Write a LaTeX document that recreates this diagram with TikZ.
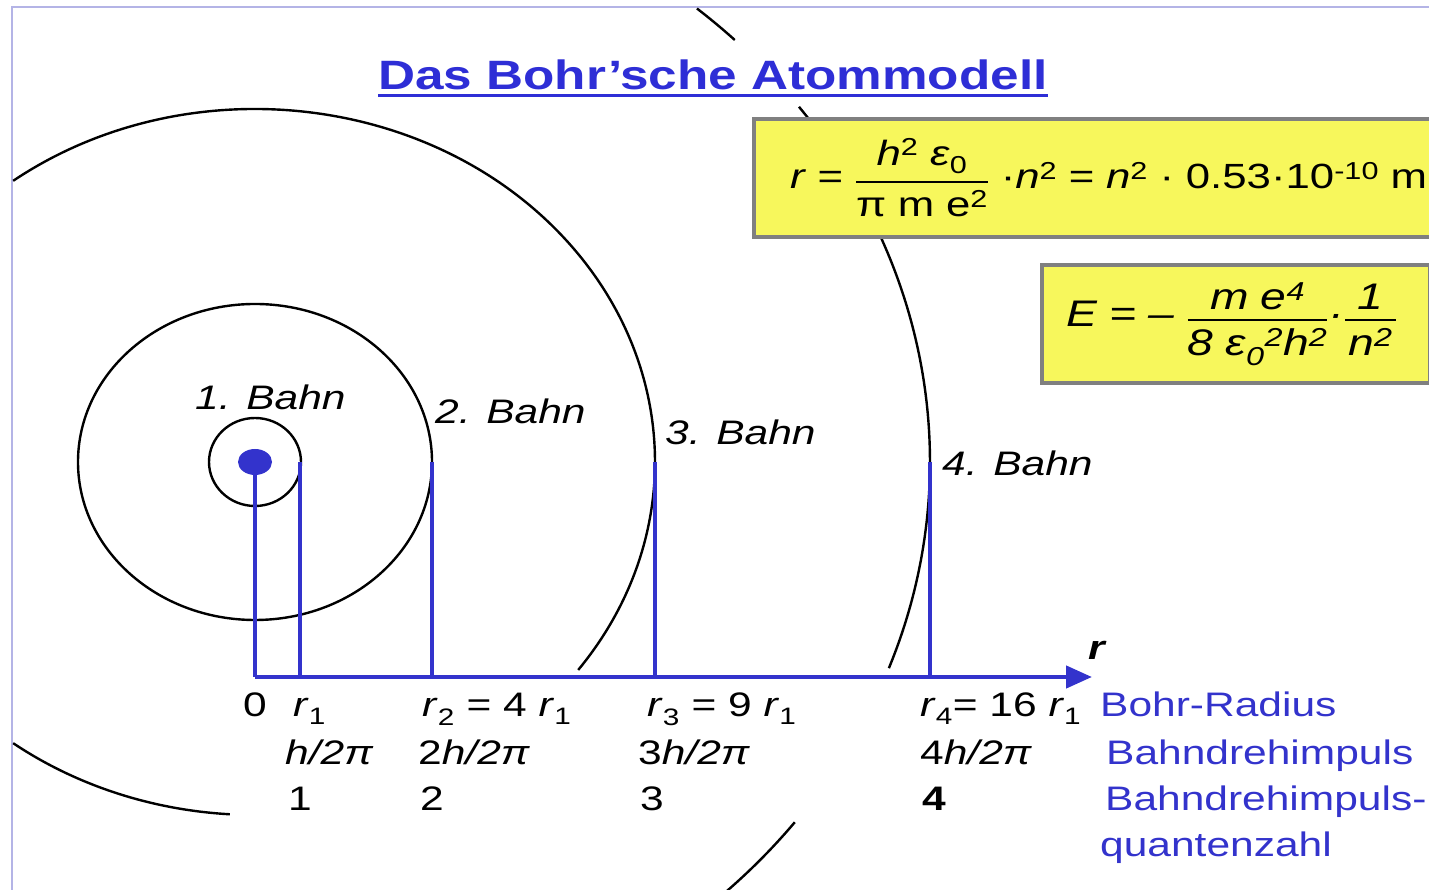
\documentclass[tikz,border=0pt]{standalone}
\usepackage{amsmath}
\usepackage{fontspec}
\setmainfont{Liberation Sans}[FakeStretch=1.25]
\usetikzlibrary{arrows.meta}
\definecolor{BohrBlue}{HTML}{3333CC}
\definecolor{BohrTitle}{HTML}{2E2ED6}
\definecolor{BohrYellow}{HTML}{F7F75C}
\definecolor{BohrGray}{HTML}{808080}
\definecolor{BohrFrame}{HTML}{B4B4E6}
\newcommand{\bfr}[2]{\ensuremath{\genfrac{}{}{2.4pt}{0}{\text{#1}}{\text{#2}}}}
\tikzset{
  orbit/.style={draw=black, line width=2.4pt},
  radline/.style={draw=BohrBlue, line width=4.5pt},
  formula/.style={draw=BohrGray, line width=4pt, fill=BohrYellow, anchor=north west,
                  align=left, inner xsep=0pt},
  lbl/.style={anchor=base west, inner sep=0pt, font=\fontsize{34}{40}\selectfont},
  bluelbl/.style={lbl, text=BohrBlue},
  bahn/.style={lbl, font=\fontsize{34}{40}\selectfont\itshape}
}

\begin{document}
\begin{tikzpicture}[x=1pt, y=1pt]
  \useasboundingbox (0,0) rectangle (1429,890);
  % frame
  \draw[BohrFrame, line width=2pt] (12,0) -- (12,883) -- (1429,883);
  % orbits
  \coordinate (nuc) at (255,428);
  \draw[orbit] (nuc) ellipse [x radius=46, y radius=44];
  \draw[orbit] (nuc) ellipse [x radius=177, y radius=158];
  \draw[orbit] (nuc) ++(127.2:400 and 353) arc[start angle=127.2, end angle=-36.1, x radius=400, y radius=353];
  \draw[orbit] (nuc) ++(232.8:400 and 353) arc[start angle=232.8, end angle=266.4, x radius=400, y radius=353];
  \draw[orbit] (nuc) ++(49.1:675 and 600) arc[start angle=49.1, end angle=44.7, x radius=675, y radius=600];
  \draw[orbit] (nuc) ++(36.3:675 and 600) arc[start angle=36.3, end angle=-20.1, x radius=675, y radius=600];
  \draw[orbit] (nuc) ++(-36.9:675 and 600) arc[start angle=-36.9, end angle=-46, x radius=675, y radius=600];
  % radii and axis
  \foreach \n/\x in {0/255, 1/300, 2/432, 3/655, 4/930} {
    \coordinate (top\n) at (\x,428);
    \coordinate (foot\n) at (\x,213);
    \draw[radline] (top\n) -- (foot\n);
  }
  \coordinate (axend) at (1092,213);
  \draw[radline, -{Triangle[length=26pt, width=22pt]}] (foot0) -- (axend);
  \fill[BohrBlue] (nuc) ellipse [x radius=17, y radius=13];
  % title
  \node[anchor=base, inner sep=0pt, text=BohrTitle, font=\fontsize{41}{48}\selectfont\bfseries]
    (title) at (713,800) {Das Bohr’sche Atommodell};
  \draw[BohrTitle, line width=3pt] ([yshift=-6pt]title.base west) -- ([yshift=-6pt]title.base east);
  % formulas
  \node[formula, minimum width=700pt, minimum height=118pt, text width=800pt,
        font=\fontsize{35}{42}\selectfont] (rbox) at (752,773)
    {\hspace*{36pt}\textit{r} = \bfr{\textit{h}\textsuperscript{2} \textit{ε}\textsubscript{0}}{π m e\textsuperscript{2}} ·\textit{n}\textsuperscript{2} = \textit{n}\textsuperscript{2} · 0.53·10\textsuperscript{-10} m};
  \node[formula, minimum width=388pt, minimum height=118pt, text width=388pt,
        font=\fontsize{37}{42}\selectfont\itshape] (ebox) at (1040,627)
    {\hspace*{24pt}E = – \bfr{\textit{m e}\textsuperscript{4}}{\textit{8 ε}\textsubscript{0}\textsuperscript{2}\textit{h}\textsuperscript{2}}·\bfr{\textit{\ 1\ }}{\textit{n}\textsuperscript{2}}};
  % orbit names
  \node[bahn] (b1) at (195,480) {1. Bahn};
  \node[bahn] (b2) at (435,466) {2. Bahn};
  \node[bahn] (b3) at (665,445) {3. Bahn};
  \node[bahn] (b4) at (942,414) {4. Bahn};
  \node[lbl, font=\fontsize{34}{40}\selectfont\bfseries\itshape] (rax) at (1088,230) {r};
  % radius row
  \node[lbl] (r0) at (243,173) {0};
  \node[lbl] (r1) at (293,173) {\textit{r}\textsubscript{1}};
  \node[lbl] (r2) at (422,173) {\textit{r}\textsubscript{2} = 4 \textit{r}\textsubscript{1}};
  \node[lbl] (r3) at (647,173) {\textit{r}\textsubscript{3} = 9 \textit{r}\textsubscript{1}};
  \node[lbl] (r4) at (920,173) {\textit{r}\textsubscript{4}= 16 \textit{r}\textsubscript{1}};
  \node[bluelbl] (bradius) at (1100,173) {Bohr-Radius};
  % angular momentum row
  \node[lbl] (h1) at (285,125) {\textit{h/2π}};
  \node[lbl] (h2) at (418,125) {2\textit{h/2π}};
  \node[lbl] (h3) at (638,125) {3\textit{h/2π}};
  \node[lbl] (h4) at (920,125) {4\textit{h/2π}};
  \node[bluelbl] (bimpuls) at (1106,125) {Bahndrehimpuls};
  % quantum number row
  \node[lbl] (n1) at (288,79) {1};
  \node[lbl] (n2) at (420,79) {2};
  \node[lbl] (n3) at (640,79) {3};
  \node[lbl, font=\fontsize{34}{40}\selectfont\bfseries] (n4) at (922,79) {4};
  \node[bluelbl] (bquant) at (1105,79) {Bahndrehimpuls-};
  \node[bluelbl] (bquant2) at (1100,33) {quantenzahl};
\end{tikzpicture}
\end{document}
